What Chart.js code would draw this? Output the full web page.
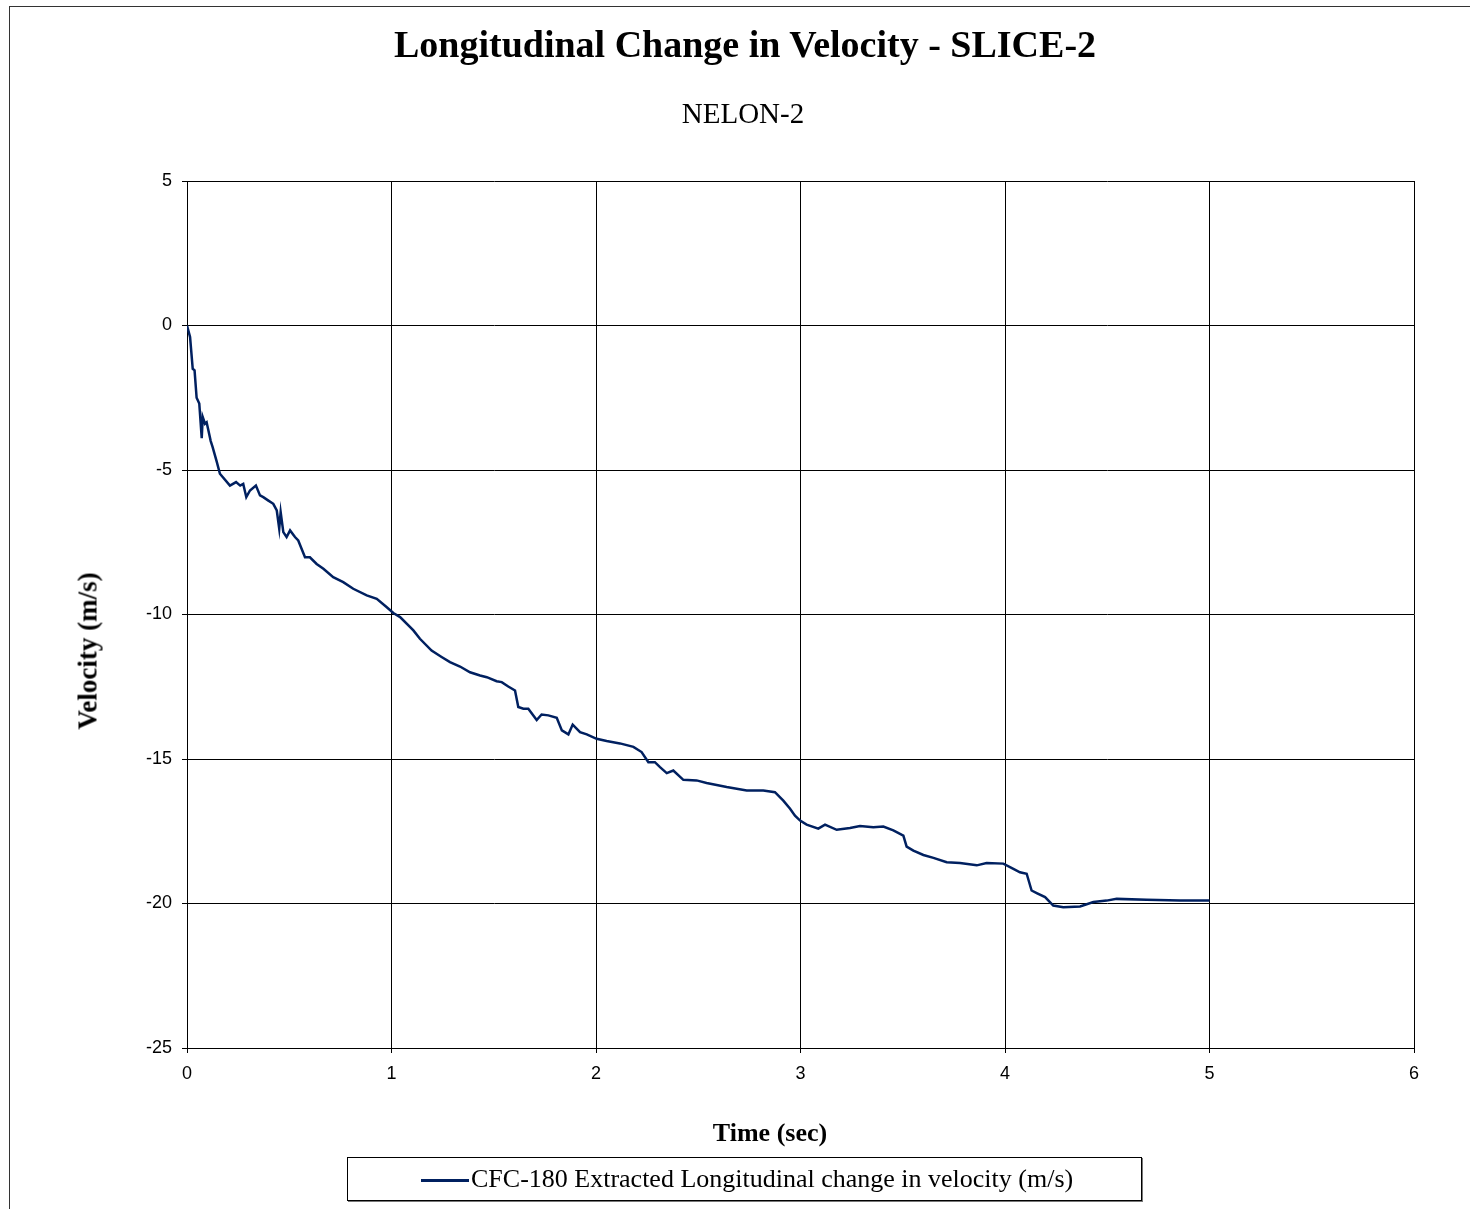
<!DOCTYPE html>
<html>
<head>
<meta charset="utf-8">
<script src="https://cdn.jsdelivr.net/npm/chart.js@4.4.1/dist/chart.umd.min.js"></script>
<style>
  html, body { margin:0; padding:0; background:#fff; }
  body { width:1470px; height:1209px; position:relative; overflow:hidden; font-family:"Liberation Serif", "Times New Roman", serif; color:#000; }
  .frame { position:absolute; left:9px; top:6px; width:1500px; height:1300px; border-left:1px solid #333; border-top:1px solid #333; }
  #chart { position:absolute; left:0; top:0; }
  .title { position:absolute; left:0; width:1490px; top:25px; text-align:center; font-size:38px; line-height:38px; font-weight:bold; white-space:nowrap; }
  .subtitle { position:absolute; left:0; width:1486px; top:99px; text-align:center; font-size:29px; line-height:29px; white-space:nowrap; }
  .xtitle { position:absolute; left:0; width:1540px; top:1120px; text-align:center; font-size:26px; line-height:26px; font-weight:bold; white-space:nowrap; }
  .ytitle { position:absolute; left:88px; top:651px; transform:translate(-50%,-50%) rotate(-90deg); font-size:27px; line-height:27px; font-weight:bold; white-space:nowrap; }
  .legend { position:absolute; left:347px; top:1157px; width:793px; height:42px; border:1px solid #000; box-shadow:1px 1px 0 #777; font-size:26px; line-height:42px; white-space:nowrap; }
  .legend .swatch { position:absolute; left:73px; top:21px; width:48px; height:3px; background:#002060; }
  .legend .label { position:absolute; left:123px; top:0; }
</style>
</head>
<body>
<div class="frame"></div>
<canvas id="chart" width="1470" height="1209"></canvas>
<div class="title">Longitudinal Change in Velocity - SLICE-2</div>
<div class="subtitle">NELON-2</div>
<div class="ytitle">Velocity (m/s)</div>
<div class="xtitle">Time (sec)</div>
<div class="legend"><span class="swatch"></span><span class="label">CFC-180 Extracted Longitudinal change in velocity (m/s)</span></div>
<script>
const seriesName = 'CFC-180 Extracted Longitudinal change in velocity (m/s)';
const timeSec = [0, 0.015, 0.028, 0.037, 0.047, 0.06, 0.072, 0.077, 0.088, 0.096,
  0.116, 0.125, 0.145, 0.161, 0.21, 0.24, 0.26, 0.275, 0.29, 0.308,
  0.337, 0.357, 0.373, 0.398, 0.422, 0.439, 0.451, 0.458, 0.471, 0.487,
  0.504, 0.528, 0.544, 0.577, 0.601, 0.634, 0.667, 0.715, 0.764, 0.813,
  0.879, 0.928, 0.977, 1.009, 1.042, 1.107, 1.139, 1.196, 1.245, 1.286,
  1.335, 1.384, 1.433, 1.466, 1.514, 1.539, 1.571, 1.604, 1.62, 1.645,
  1.669, 1.71, 1.734, 1.767, 1.808, 1.833, 1.865, 1.886, 1.922, 1.955,
  2.003, 2.052, 2.117, 2.183, 2.223, 2.256, 2.288, 2.313, 2.346, 2.378,
  2.427, 2.492, 2.541, 2.639, 2.737, 2.818, 2.875, 2.916, 2.949, 2.973,
  2.998, 3.03, 3.087, 3.12, 3.177, 3.242, 3.291, 3.356, 3.405, 3.454,
  3.503, 3.519, 3.552, 3.601, 3.65, 3.715, 3.78, 3.862, 3.91, 3.992,
  4.041, 4.073, 4.106, 4.13, 4.155, 4.196, 4.236, 4.285, 4.367, 4.432,
  4.497, 4.546, 4.693, 4.856, 5.0];
const velocity = [0, -0.4, -1.5, -1.55, -2.5, -2.7, -3.9, -3.17, -3.4, -3.35,
  -4.0, -4.2, -4.7, -5.13, -5.54, -5.42, -5.54, -5.48, -5.94, -5.71,
  -5.54, -5.88, -5.94, -6.06, -6.17, -6.4, -7.03, -6.46, -7.15, -7.32,
  -7.09, -7.32, -7.44, -8.02, -8.02, -8.25, -8.42, -8.71, -8.88, -9.11,
  -9.34, -9.46, -9.75, -9.95, -10.09, -10.55, -10.84, -11.25, -11.47, -11.65,
  -11.8, -12.0, -12.11, -12.17, -12.31, -12.34, -12.49, -12.63, -13.2, -13.26,
  -13.26, -13.65, -13.46, -13.49, -13.57, -14.01, -14.15, -13.81, -14.07, -14.15,
  -14.3, -14.38, -14.46, -14.58, -14.76, -15.11, -15.11, -15.28, -15.49, -15.4,
  -15.72, -15.74, -15.83, -15.97, -16.09, -16.09, -16.15, -16.44, -16.72, -16.96,
  -17.13, -17.27, -17.41, -17.27, -17.45, -17.39, -17.32, -17.36, -17.34, -17.47,
  -17.65, -18.03, -18.17, -18.32, -18.42, -18.57, -18.6, -18.68, -18.6, -18.62,
  -18.8, -18.92, -18.97, -19.55, -19.64, -19.78, -20.07, -20.13, -20.1, -19.95,
  -19.9, -19.84, -19.87, -19.9, -19.9];
const xTicks = [0, 1, 2, 3, 4, 5, 6];
const yTicks = [5, 0, -5, -10, -15, -20, -25];

const points = timeSec.map((t, i) => ({x: t, y: velocity[i]}));
const tickFont = {family: '"Liberation Sans", Arial, sans-serif', size: 18};

new Chart(document.getElementById('chart'), {
  type: 'line',
  data: { datasets: [{ label: seriesName, data: points, borderColor: '#002060', borderWidth: 2.5, pointRadius: 0, tension: 0, fill: false }] },
  options: {
    responsive: false, animation: false, devicePixelRatio: 1,
    layout: { padding: {left: 0, top: 181, right: 56, bottom: 0} },
    plugins: { legend: {display: false}, title: {display: false}, tooltip: {enabled: false} },
    scales: {
      x: {
        type: 'linear', min: xTicks[0], max: xTicks[xTicks.length - 1],
        afterFit: s => { s.height = 161; },
        afterBuildTicks: s => { s.ticks = xTicks.map(v => ({value: v})); },
        ticks: { color: '#000', font: tickFont, padding: 10, maxRotation: 0 },
        grid: { color: '#000', lineWidth: 1, tickLength: 5, tickColor: '#000' },
        border: { color: '#000', width: 1 }
      },
      y: {
        type: 'linear', min: -25, max: 5,
        afterFit: s => { s.width = 187; },
        afterBuildTicks: s => { s.ticks = yTicks.map(v => ({value: v})); },
        ticks: { color: '#000', font: tickFont, padding: 10 },
        grid: { color: '#000', lineWidth: 1, tickLength: 5, tickColor: '#000' },
        border: { color: '#000', width: 1 }
      }
    }
  }
});
</script>
</body>
</html>
